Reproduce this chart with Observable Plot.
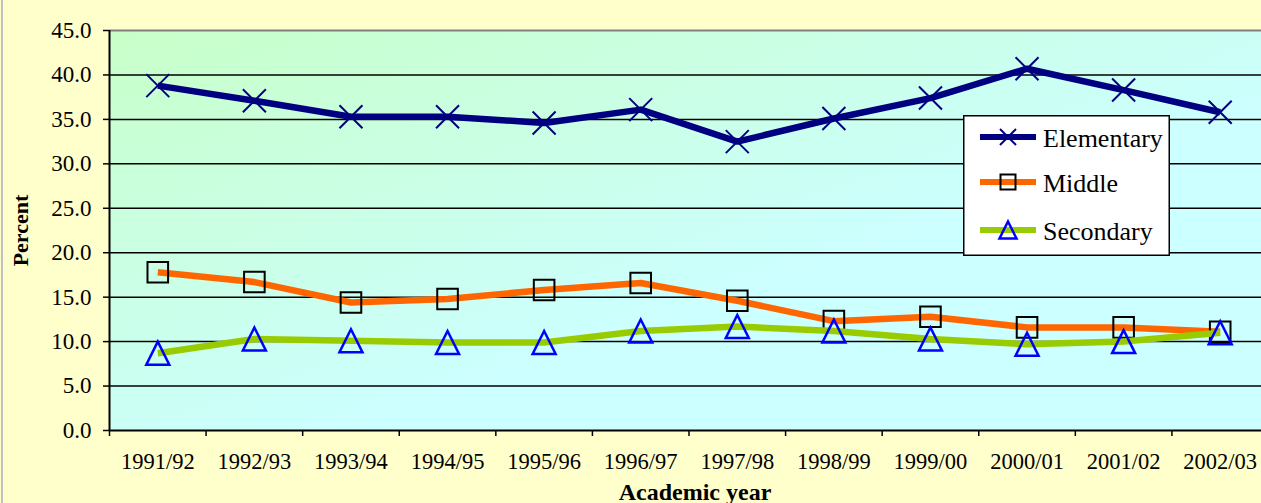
<!DOCTYPE html>
<html>
<head>
<meta charset="utf-8">
<script src="https://cdn.jsdelivr.net/npm/d3@7"></script>
<script src="https://cdn.jsdelivr.net/npm/@observablehq/plot@0.6"></script>
<style>
  html, body { margin: 0; padding: 0; background: #FFFFCC; }
  #wrap { position: relative; width: 1261px; height: 503px; overflow: hidden; font-family: "Liberation Serif", "Times New Roman", serif; }
  #edge { position: absolute; left: 1px; top: 0; width: 2px; height: 503px; background: #C0C0C0; }
  #legend { position: absolute; left: 963px; top: 115px; }
</style>
</head>
<body>
<div id="wrap"><div id="edge"></div></div>
<script>
// ---- data ----
const years = ["1991/92","1992/93","1993/94","1994/95","1995/96","1996/97","1997/98","1998/99","1999/00","2000/01","2001/02","2002/03"];
const elementary = [38.8, 37.1, 35.3, 35.3, 34.6, 36.1, 32.5, 35.1, 37.4, 40.7, 38.3, 35.8];
const middle     = [17.8, 16.7, 14.4, 14.8, 15.8, 16.6, 14.6, 12.3, 12.8, 11.6, 11.6, 11.1];
const secondary  = [8.7, 10.3, 10.1, 9.9, 9.9, 11.2, 11.7, 11.2, 10.3, 9.7, 10.0, 11.0];
const seriesNames = ["Elementary", "Middle", "Secondary"];
const lineColors = ["#000080", "#FF6600", "#99CC00"];
const markerColors = ["#000080", "#000000", "#0000FF"];
const yTicks = [0, 5, 10, 15, 20, 25, 30, 35, 40, 45];
const yGrid = [5, 10, 15, 20, 25, 30, 35, 40];

// ---- custom marker symbols (bbox-centred, half-size r = sqrt(size/pi)) ----
const symX = {draw(ctx, size) { const r = Math.sqrt(size / Math.PI); ctx.moveTo(-r, -r); ctx.lineTo(r, r); ctx.moveTo(r, -r); ctx.lineTo(-r, r); }};
const symSquare = {draw(ctx, size) { const r = Math.sqrt(size / Math.PI); ctx.rect(-r, -r, 2 * r, 2 * r); }};
const symTri = {draw(ctx, size) { const r = Math.sqrt(size / Math.PI); ctx.moveTo(0, -r); ctx.lineTo(r, r); ctx.lineTo(-r, r); ctx.closePath(); }};
const symbols = [symX, symSquare, symTri];
const markerR = [11.5, 10.3, 11.5];
const markerW = [2, 2, 2.5];
const legendR = [8, 7.5, 8.5];

const valuesList = [elementary, middle, secondary];
const seriesData = valuesList.map(vals => vals.map((v, i) => ({i, year: years[i], v})));

const seriesMarks = [];
seriesData.forEach((data, k) => {
  seriesMarks.push(Plot.line(data, {x: d => d.i + 0.5, y: "v", stroke: lineColors[k], strokeWidth: 6.5, strokeLinejoin: "round", strokeLinecap: "butt"}));
  seriesMarks.push(Plot.dot(data, {x: d => d.i + 0.5, y: "v", r: markerR[k], symbol: symbols[k], fill: "none", stroke: markerColors[k], strokeWidth: markerW[k]}));
});

const chart = Plot.plot({
  width: 1261,
  height: 503,
  marginLeft: 109,
  marginRight: -7,
  marginTop: 30,
  marginBottom: 73,
  style: {background: "#FFFFCC", color: "black", fontFamily: "'Liberation Serif', 'Times New Roman', serif"},
  x: {type: "linear", domain: [0, years.length]},
  y: {domain: [0, 45]},
  marks: [
    Plot.frame({fill: "url(#plotbg)", stroke: null}),
    Plot.gridY(yGrid, {stroke: "black", strokeOpacity: 1, strokeWidth: 1.5}),
    Plot.ruleY([45], {stroke: "#808080", strokeWidth: 2}),
    Plot.axisY(yTicks, {tickFormat: d3.format(".1f"), tickSize: 6, tickPadding: 12, fontSize: 23, label: null, stroke: "black", strokeWidth: 1.5}),
    Plot.axisX(d3.range(years.length + 1), {tickFormat: () => "", tickSize: 6, label: null, stroke: "black", strokeWidth: 1.5}),
    Plot.axisX(years.map((_, i) => i + 0.5), {tickSize: 0, tickPadding: 23, tickFormat: d => years[Math.round(d - 0.5)], fontSize: 22.5, label: null}),
    ...seriesMarks,
    Plot.ruleX([0], {stroke: "black", strokeWidth: 2}),
    Plot.ruleY([0], {stroke: "black", strokeWidth: 2}),
    Plot.text(["Percent"], {frameAnchor: "left", dx: -89, rotate: -90, textAnchor: "middle", lineAnchor: "middle", fontSize: 22, fontWeight: "bold", fill: "black"}),
    Plot.text(["Academic year"], {frameAnchor: "bottom", dx: 6, dy: 62, textAnchor: "middle", lineAnchor: "middle", fontSize: 24, fontWeight: "bold", fill: "black"})
  ]
});

// gradient for the plot area
const defs = d3.select(chart).insert("defs", ":first-child");
const grad = defs.append("linearGradient").attr("id", "plotbg").attr("x1", 0).attr("y1", 0).attr("x2", 1).attr("y2", 1);
grad.append("stop").attr("offset", 0).attr("stop-color", "#C8FFC8");
grad.append("stop").attr("offset", 0.6).attr("stop-color", "#CCFFFF");
grad.append("stop").attr("offset", 1).attr("stop-color", "#CCFFFF");

const wrap = document.getElementById("wrap");
wrap.insertBefore(chart, wrap.firstChild);

// legend (built from the series arrays)
const lw = 207, lh = 141;
const lg = d3.select(wrap).append("svg").attr("id", "legend").attr("width", lw).attr("height", lh);
lg.append("rect").attr("x", 0.75).attr("y", 0.75).attr("width", lw - 1.5).attr("height", lh - 1.5).attr("fill", "white").attr("stroke", "black").attr("stroke-width", 1.5);
const rowY = [22, 67, 115];
seriesNames.forEach((name, k) => {
  const g = lg.append("g").attr("transform", `translate(0,${rowY[k]})`);
  g.append("line").attr("x1", 17).attr("x2", 73).attr("y1", 0).attr("y2", 0).attr("stroke", lineColors[k]).attr("stroke-width", 6);
  g.append("path").attr("transform", "translate(45,0)")
    .attr("d", d3.symbol().type(symbols[k]).size(Math.PI * legendR[k] * legendR[k])())
    .attr("fill", "none").attr("stroke", markerColors[k]).attr("stroke-width", markerW[k]);
  g.append("text").attr("x", 80).attr("y", 10).attr("font-size", 26).attr("fill", "black")
    .attr("font-family", "'Liberation Serif', 'Times New Roman', serif").text(name);
});
</script>
</body>
</html>
